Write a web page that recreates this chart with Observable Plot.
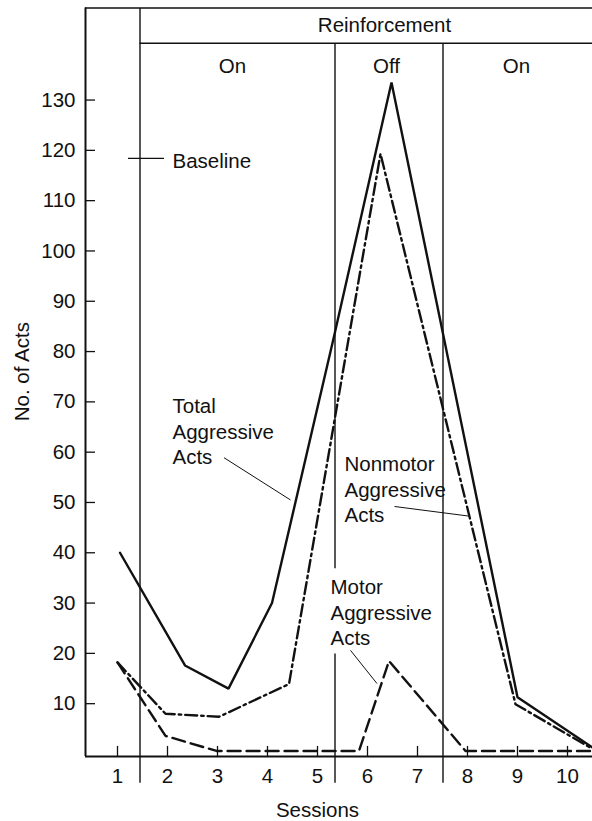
<!DOCTYPE html>
<html><head><meta charset="utf-8">
<script src="https://cdn.jsdelivr.net/npm/d3@7"></script>
<script src="https://cdn.jsdelivr.net/npm/@observablehq/plot@0.6"></script>
<style>
html,body{margin:0;padding:0;background:#fff;}
#chart svg{display:block;}
</style></head><body><div id="chart"></div>
<script>
// ---- data ----
const sessionTicks = [1, 2, 3, 4, 5, 6, 7, 8, 9, 10];
const actTicks = [10, 20, 30, 40, 50, 60, 70, 80, 90, 100, 110, 120, 130];

const totalSession = [1.05, 2.35, 3.22, 4.09, 5.33, 6.48, 9.0, 10.5];
const totalActs    = [40, 17.6, 13, 30, 83, 133.5, 11.3, 1.3];

const nonmotorSession = [1.0, 1.96, 3.03, 4.43, 6.26, 8.96, 10.5];
const nonmotorActs    = [18.2, 8, 7.4, 13.9, 119.3, 9.9, 1.0];

const motorSession = [1.0, 1.96, 2.98, 5.83, 6.43, 7.96, 10.5];
const motorActs    = [18.2, 3.6, 0.6, 0.6, 18.5, 0.6, 0.6];

const phaseBounds = [1.45, 5.35, 7.51];
const phaseNames = ["On", "Off", "On"];
const phaseLabelX = [3.3, 6.38, 8.98];
const baselineLevel = 118.4;

// ---- build tables ----
const zip = (xs, ys) => xs.map((x, i) => ({x, y: ys[i]}));
const total = zip(totalSession, totalActs);
const nonmotor = zip(nonmotorSession, nonmotorActs);
const motor = zip(motorSession, motorActs);

const X0 = 0.36, X1 = 10.5, Y0 = -0.5, Y1 = 148.3, BAND = 141.3, BELOW = -5.7;

const dividers = [
  {x: phaseBounds[0], y1: Y1, y2: BELOW},
  {x: phaseBounds[1], y1: BAND, y2: 36.9},
  {x: phaseBounds[1], y1: 20.0, y2: BELOW},
  {x: phaseBounds[2], y1: BAND, y2: BELOW}
];

const phases = phaseNames.map((t, i) => ({t, x: phaseLabelX[i], y: 136.7}));
phases.push({t: "Reinforcement", x: 6.34, y: 144.9});

const seriesLabels = [
  {t: "Baseline", x: 2.1, y: 118.2},
  {t: "Total\nAggressive\nActs", x: 2.1, y: 64.3},
  {t: "Nonmotor\nAggressive\nActs", x: 5.54, y: 52.8},
  {t: "Motor\nAggressive\nActs", x: 5.26, y: 28.3}
];

const leaders = [
  {x1: 3.13, y1: 58.9, x2: 4.46, y2: 50.5},
  {x1: 6.54, y1: 49.2, x2: 8.02, y2: 47.3},
  {x1: 5.66, y1: 20.6, x2: 6.19, y2: 14.0}
];

const font = "'Liberation Sans', Arial, Helvetica, sans-serif";
const FS = 20.5;

const chart = Plot.plot({
  width: 592, height: 821,
  marginLeft: 85, marginRight: 0, marginTop: 7.5, marginBottom: 65,
  x: {domain: [X0, X1], axis: null},
  y: {domain: [Y0, Y1], axis: null},
  style: {fontFamily: font, fontSize: FS + "px", color: "#111", background: "white"},
  marks: [
    // frame
    Plot.ruleX([X0], {y1: Y0, y2: Y1, stroke: "#111", strokeWidth: 2}),
    Plot.ruleY([Y0], {x1: X0, x2: X1, stroke: "#111", strokeWidth: 2}),
    Plot.ruleY([Y1], {x1: X0, x2: X1, stroke: "#111", strokeWidth: 1.5}),
    Plot.ruleY([BAND], {x1: phaseBounds[0], x2: X1, stroke: "#111", strokeWidth: 1.5}),
    // dividers
    Plot.link(dividers, {x1: "x", x2: "x", y1: "y1", y2: "y2", stroke: "#111", strokeWidth: 1.4}),
    // ticks
    Plot.ruleY(actTicks, {y: d => d, x1: X0, x2: X0 + 0.2, stroke: "#111", strokeWidth: 1.3}),
    Plot.ruleX(sessionTicks, {x: d => d, y1: Y0, y2: Y0 + 2, stroke: "#111", strokeWidth: 1.3}),
    Plot.text(actTicks, {x: X0, y: d => d, text: d => String(d), dx: -10, textAnchor: "end", fontSize: FS, fill: "#111"}),
    Plot.text(sessionTicks, {x: d => d, y: Y0, text: d => String(d), dy: 20, fontSize: FS, fill: "#111"}),
    // axis titles
    Plot.text(["Sessions"], {x: 5.0, y: -11.2, text: d => d, fontSize: FS, fill: "#111"}),
    Plot.text(["No. of Acts"], {x: -0.9, y: 76, text: d => d, rotate: -90, fontSize: FS, fill: "#111"}),
    // baseline marker
    Plot.ruleY([baselineLevel], {x1: 1.22, x2: 1.94, stroke: "#111", strokeWidth: 1.3}),
    // series
    Plot.line(total, {x: "x", y: "y", stroke: "#111", strokeWidth: 2.4, strokeLinejoin: "miter"}),
    Plot.line(nonmotor, {x: "x", y: "y", stroke: "#111", strokeWidth: 2.4, strokeDasharray: "12,4,2.5,4"}),
    Plot.line(motor, {x: "x", y: "y", stroke: "#111", strokeWidth: 2.4, strokeDasharray: "13,6"}),
    // leaders
    Plot.link(leaders, {x1: "x1", y1: "y1", x2: "x2", y2: "y2", stroke: "#111", strokeWidth: 1}),
    // labels
    Plot.text(phases, {x: "x", y: "y", text: "t", fontSize: FS, fill: "#111"}),
    Plot.text(seriesLabels, {x: "x", y: "y", text: "t", textAnchor: "start", fontSize: FS, lineHeight: 1.25, fill: "#111"})
  ]
});
document.getElementById("chart").appendChild(chart);
</script></body></html>
